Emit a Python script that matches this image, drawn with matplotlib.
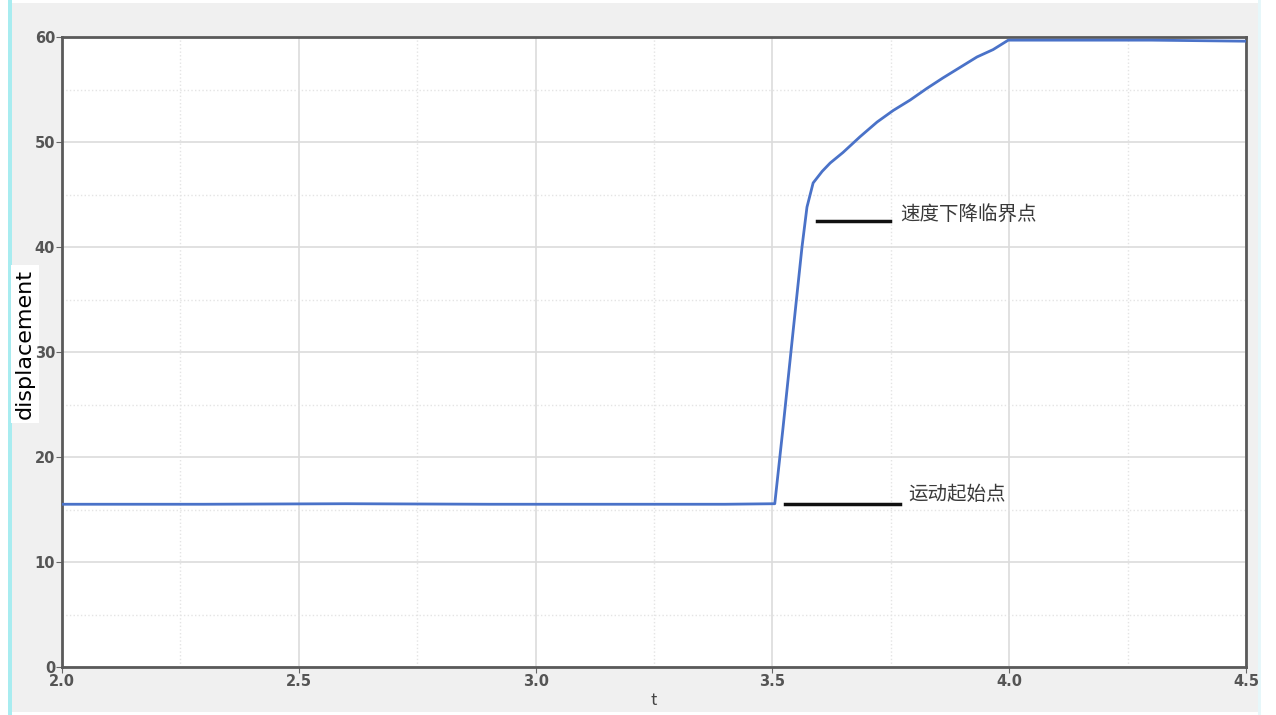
import matplotlib
matplotlib.use("Agg")
import matplotlib.pyplot as plt
from matplotlib.patches import Rectangle
from matplotlib.ticker import MultipleLocator

plt.rcParams['font.family'] = ['Noto Sans CJK SC', 'DejaVu Sans']

# data
t = [2.0, 2.3, 2.6, 2.9, 3.2, 3.4, 3.505, 3.522, 3.544, 3.5625, 3.573, 3.586,
     3.605, 3.622, 3.649, 3.685, 3.721, 3.755, 3.791, 3.826, 3.860, 3.896,
     3.932, 3.966, 3.998, 4.1, 4.3, 4.5]
disp = [15.5, 15.5, 15.55, 15.5, 15.5, 15.5, 15.55, 22.6, 32.1, 40.0, 43.8, 46.1,
        47.2, 48.0, 49.0, 50.5, 51.9, 53.0, 54.0, 55.1, 56.1, 57.1,
        58.1, 58.8, 59.7, 59.7, 59.7, 59.6]

annot_text = ["速度下降临界点", "运动起始点"]
annot_line_x = [(3.594, 3.748), (3.527, 3.769)]
annot_line_y = [42.5, 15.5]
annot_text_xy = [(3.769, 43.1), (3.786, 16.4)]

xticks = [2.0, 2.5, 3.0, 3.5, 4.0, 4.5]
yticks = [0, 10, 20, 30, 40, 50, 60]

fig = plt.figure(figsize=(12.76, 7.15), dpi=100)
fig.patch.set_facecolor('white')
W, H = 1276, 715
fig.patches.append(Rectangle((12 / W, 3 / H), (1258 - 12) / W, (712 - 3) / H,
                             transform=fig.transFigure, facecolor='#f0f0f0',
                             edgecolor='none', zorder=-10))
fig.patches.append(Rectangle((8 / W, 0), 4 / W, 1, transform=fig.transFigure,
                             facecolor='#a8ecf0', edgecolor='none', zorder=-10))
fig.patches.append(Rectangle((1258 / W, 0), 3 / W, 1, transform=fig.transFigure,
                             facecolor='#e6f7fa', edgecolor='none', zorder=-10))

ax = fig.add_axes([62 / W, 1 - 667 / H, (1246 - 62) / W, (667 - 37) / H])
ax.set_zorder(5)
ax.patch.set_alpha(1.0)
ax.set_facecolor('white')
ax.set_xlim(2.0, 4.5)
ax.set_ylim(0, 60)
ax.set_xticks(xticks)
ax.set_yticks(yticks)
ax.xaxis.set_minor_locator(MultipleLocator(0.25))
ax.yaxis.set_minor_locator(MultipleLocator(5))
ax.grid(which='major', color='#dcdcdc', linewidth=1.2, linestyle='-')
ax.grid(which='minor', color='#e4e4e4', linewidth=1.0, linestyle=':')
ax.set_axisbelow(True)
for s in ax.spines.values():
    s.set_color('#5a5a5a')
    s.set_linewidth(2)
ax.tick_params(which='major', direction='out', length=4, color='#666666',
               labelsize=10.5, labelcolor='#555555', pad=1)
ax.tick_params(which='minor', length=0)
for lbl in ax.get_xticklabels() + ax.get_yticklabels():
    lbl.set_fontweight('bold')
    lbl.set_family(['DejaVu Sans'])

ax.plot(t, disp, color='#4a72c8', linewidth=2, zorder=3)

for (x0, x1), y in zip(annot_line_x, annot_line_y):
    ax.plot([x0, x1], [y, y], color='#111111', linewidth=2.5, zorder=4)
for txt, (x, y) in zip(annot_text, annot_text_xy):
    ax.text(x, y, txt, fontsize=14, color='#3a3a3a', va='center', ha='left', zorder=5)

ax.set_xlabel('t', fontsize=12, color='#444444', labelpad=2)
fig.text(25 / W, 1 - 344 / H, 'displacement', rotation=90, fontsize=16,
         color='black', ha='center', va='center', family=['DejaVu Sans'],
         bbox=dict(boxstyle='square,pad=0.2', facecolor='white', edgecolor='none'),
         zorder=1)

fig.savefig('out.png', dpi=100, facecolor=fig.get_facecolor())
